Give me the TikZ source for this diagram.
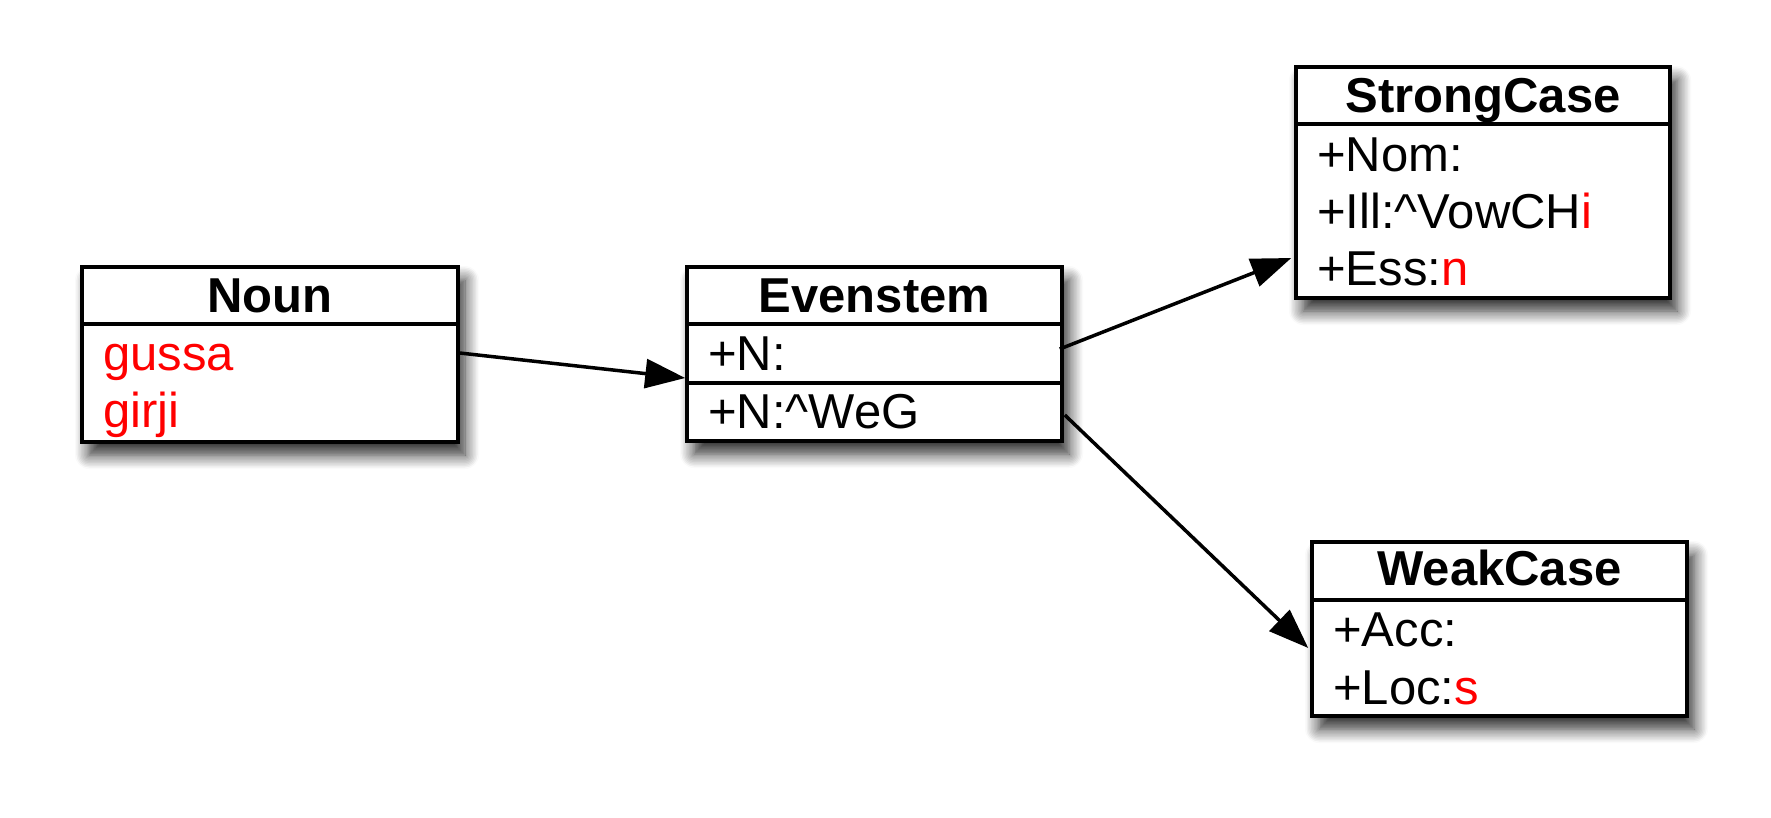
\documentclass[tikz,border=0pt]{standalone}
\usepackage{fontspec}
\setmainfont{Liberation Sans}
\usetikzlibrary{arrows.meta,shadows.blur,calc}
\tikzset{
  classbox/.style={draw=black, line width=3.5pt, fill=white, inner sep=0pt,
    blur shadow={shadow xshift=7pt, shadow yshift=-13pt, shadow blur radius=14pt, shadow blur steps=10, shadow opacity=85}},
  divider/.style={line width=3.5pt},
  hdr/.style={anchor=base, inner sep=0pt, font=\fontsize{49pt}{57pt}\selectfont\bfseries},
  attr/.style={anchor=base west, inner sep=0pt, font=\fontsize{49pt}{57pt}\selectfont},
  arr/.style={line width=3.5pt, -{Triangle[length=40pt,width=29pt]}}
}
\begin{document}
\begin{tikzpicture}[x=1pt,y=-1pt]
\useasboundingbox (0,0) rectangle (1771,817);
% boxes
\node[classbox, minimum width=376pt, minimum height=175pt] (noun) at (270,354.5) {};
\node[classbox, minimum width=375pt, minimum height=174pt] (even) at (874.5,354) {};
\node[classbox, minimum width=374pt, minimum height=231pt] (strong) at (1483,182.5) {};
\node[classbox, minimum width=375pt, minimum height=174pt] (weak) at (1499.5,629) {};
% dividers
\draw[divider] (noun.west |- 0,324) -- (noun.east |- 0,324);
\draw[divider] (even.west |- 0,324) -- (even.east |- 0,324);
\draw[divider] (even.west |- 0,383) -- (even.east |- 0,383);
\draw[divider] (strong.west |- 0,124) -- (strong.east |- 0,124);
\draw[divider] (weak.west |- 0,600) -- (weak.east |- 0,600);
% headers
\node[hdr] (nounh) at (270,312) {Noun};
\node[hdr] (evenh) at (874.5,312) {Evenstem};
\node[hdr] (strongh) at (1483,112) {StrongCase};
\node[hdr] (weakh) at (1499.5,585) {WeakCase};
% attributes
\node[attr, text=red] (n1) at (103,370) {gussa};
\node[attr, text=red] (n2) at (103,427) {girji};
\node[attr] (e1) at (708,370) {+N:};
\node[attr] (e2) at (708,428) {+N:\^{}WeG};
\node[attr] (s1) at (1317,171) {+Nom:};
\node[attr] (s2) at (1317,228) {+Ill:\^{}VowCH\textcolor{red}{i}};
\node[attr] (s3) at (1317,285) {+Ess:\textcolor{red}{n}};
\node[attr] (w1) at (1333,646) {+Acc:};
\node[attr] (w2) at (1333,704) {+Loc:\textcolor{red}{s}};
% connectors
\draw[arr] ($(noun.east)+(0,-1.5)$) -- ($(even.west)+(0,24)$);
\draw[arr] ($(even.east)+(-4,-5)$) -- ($(strong.west)+(-3,75.5)$);
\draw[arr] ($(even.east)+(1,61)$) -- ($(weak.west)+(-2,19)$);
\end{tikzpicture}
\end{document}
